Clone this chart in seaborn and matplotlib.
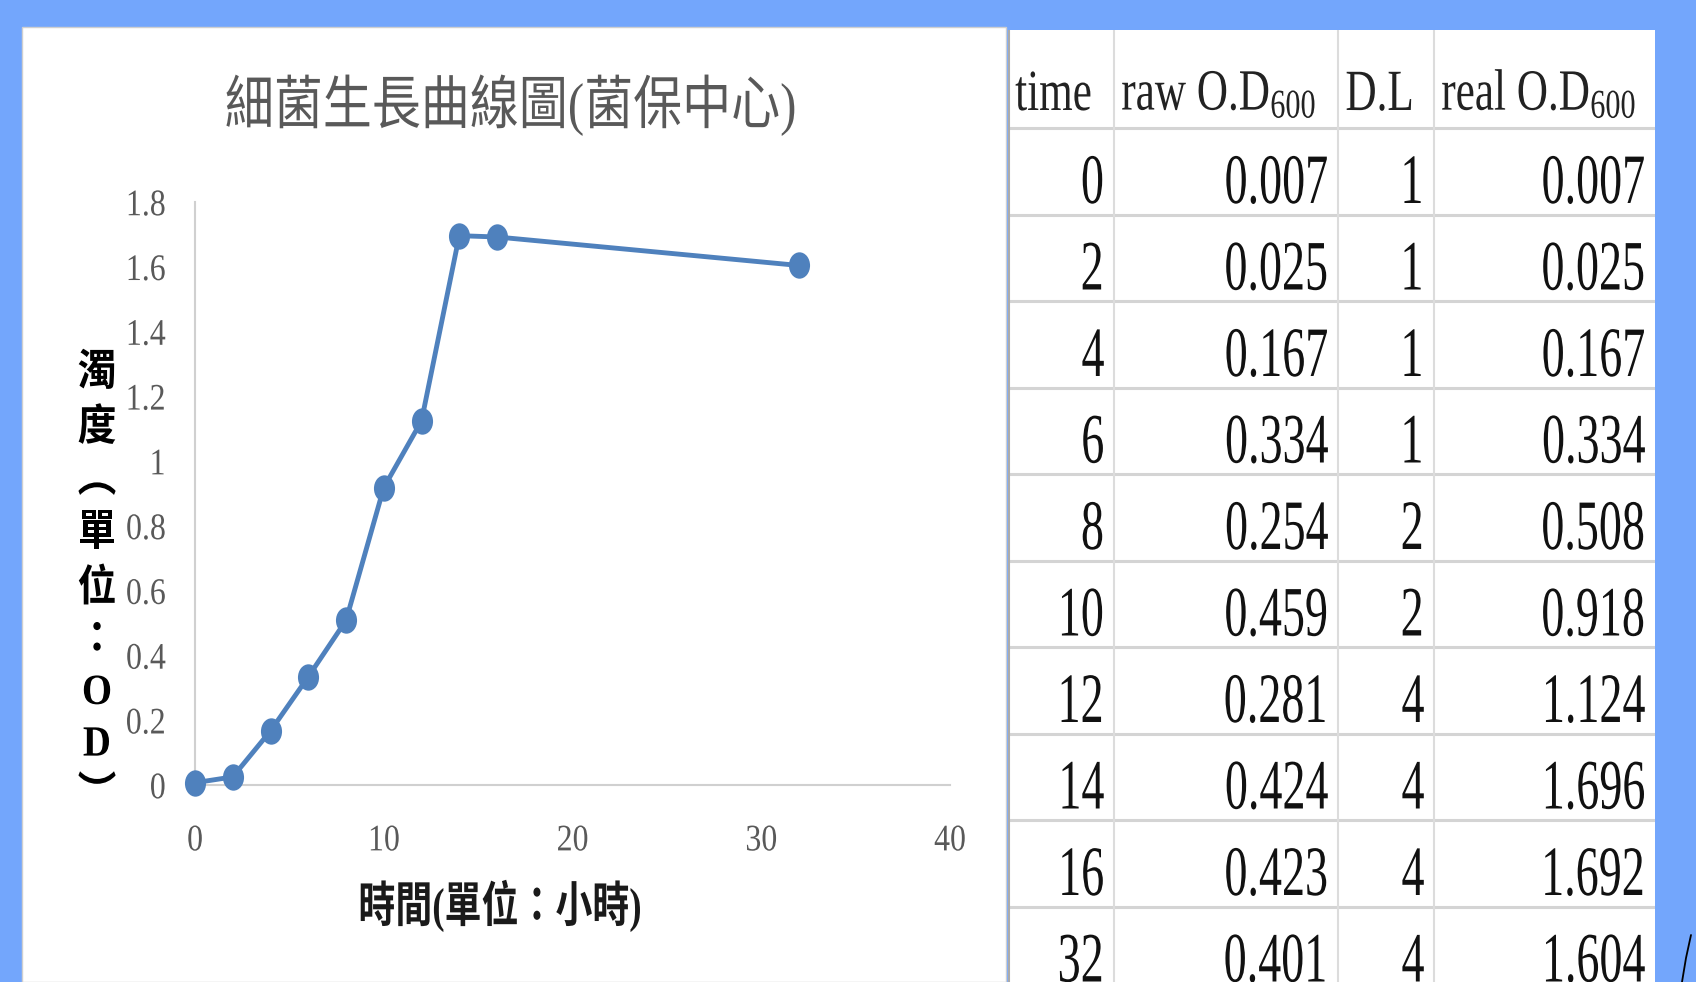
import matplotlib
matplotlib.use("Agg")
import matplotlib.pyplot as plt
import numpy as np
import pandas as pd
import seaborn as sns
from matplotlib.patheffects import AbstractPathEffect
from matplotlib.transforms import Affine2D
from matplotlib.markers import MarkerStyle
from matplotlib.patches import Rectangle
from matplotlib.lines import Line2D

# growth-curve measurements (hours, raw OD600, dilution, corrected OD600)
time_h = [0, 2, 4, 6, 8, 10, 12, 14, 16, 32]
raw_od = [0.007, 0.025, 0.167, 0.334, 0.254, 0.459, 0.281, 0.424, 0.423, 0.401]
dilution = [1, 1, 1, 1, 2, 2, 4, 4, 4, 4]
real_od = [0.007, 0.025, 0.167, 0.334, 0.508, 0.918, 1.124, 1.696, 1.692, 1.604]

x_ticks = [0, 10, 20, 30, 40]
y_ticks = [0, 0.2, 0.4, 0.6, 0.8, 1.0, 1.2, 1.4, 1.6, 1.8]
y_tick_labels = ["0", "0.2", "0.4", "0.6", "0.8", "1", "1.2", "1.4", "1.6", "1.8"]
table_headers = ["time", r"raw O.D$_{600}$", "D.L", r"real O.D$_{600}$"]

title_text = "細菌生長曲線圖(菌保中心)"
xlabel_text = "時間(單位：小時)"
ylabel_chars = ["濁", "度", "︵", "單", "位", "：", "O", "D", "︶"]


class Narrow(AbstractPathEffect):
    """Squeeze glyph outlines horizontally about the left, centre or right edge."""

    def __init__(self, factor, anchor="center"):
        super().__init__()
        self.factor = factor
        self.anchor = anchor

    def draw_path(self, renderer, gc, tpath, affine, rgbFace=None):
        ext = tpath.get_extents(affine)
        if self.anchor == "left":
            x0 = ext.x0
        elif self.anchor == "right":
            x0 = ext.x1
        else:
            x0 = 0.5 * (ext.x0 + ext.x1)
        squeeze = affine + Affine2D().translate(-x0, 0).scale(self.factor, 1.0).translate(x0, 0)
        renderer.draw_path(gc, tpath, squeeze, rgbFace)


sns.set_theme(style="white")
FAMILY = ["Liberation Serif", "Noto Sans CJK TC", "DejaVu Sans"]
plt.rcParams["font.family"] = FAMILY
plt.rcParams["mathtext.fontset"] = "custom"
plt.rcParams["mathtext.rm"] = "Liberation Serif"
plt.rcParams["mathtext.it"] = "Liberation Serif:italic"
plt.rcParams["mathtext.bf"] = "Liberation Serif:bold"

W, H = 1696, 982
BLUE_BG = "#73A6FC"
LINE_BLUE = "#4F81BD"
GREY_TXT = "#595959"

fig = plt.figure(figsize=(W / 100, H / 100), dpi=100, facecolor=BLUE_BG)


def fx(px):
    return px / W


def fy(py):
    return 1 - py / H


# white panels: chart on the left, data sheet on the right
fig.add_artist(Rectangle((fx(22), 0), fx(1006) - fx(22), fy(27), transform=fig.transFigure,
                         facecolor="white", edgecolor="#CFCFCF", linewidth=1.0, zorder=0))
fig.add_artist(Rectangle((fx(1008), 0), fx(1655) - fx(1008), fy(30), transform=fig.transFigure,
                         facecolor="white", edgecolor="none", zorder=0))

# ---- growth curve ----
ax = fig.add_axes([fx(195), fy(785), fx(950) - fx(195), fy(202) - fy(785)])
ax.set_facecolor("none")
df = pd.DataFrame({"time": time_h, "od": real_od})
oval = MarkerStyle("o", transform=Affine2D().scale(0.8, 1.0))
sns.lineplot(data=df, x="time", y="od", ax=ax, color=LINE_BLUE, linewidth=3.5,
             marker=oval, markersize=19, markeredgewidth=0, clip_on=False, zorder=3)

ax.set_xlim(0, 40)
ax.set_ylim(0, 1.8)
ax.set_xticks(x_ticks, labels=[str(v) for v in x_ticks])
ax.set_yticks(y_ticks, labels=y_tick_labels)
ax.tick_params(length=0, labelsize=27, labelcolor=GREY_TXT)
ax.tick_params(axis="y", pad=21)
ax.tick_params(axis="x", pad=28)
ax.grid(False)
for side in ("top", "right"):
    ax.spines[side].set_visible(False)
for side in ("left", "bottom"):
    ax.spines[side].set_color("#D0D0D0")
    ax.spines[side].set_linewidth(1.5)
for lab in ax.get_xticklabels():
    lab.set_fontfamily(FAMILY)
    lab.set_path_effects([Narrow(0.85, "center")])
for lab in ax.get_yticklabels():
    lab.set_fontfamily(FAMILY)
    lab.set_path_effects([Narrow(0.85, "right")])

ax.set_xlabel(xlabel_text, fontsize=35, fontweight="bold", color="#1A1A1A",
              va="center", path_effects=[Narrow(0.76)])
ax.xaxis.set_label_coords((500 - 195) / 755, (785 - 906) / 583)

ax.set_ylabel("\n".join(ylabel_chars), rotation=0, fontsize=31, fontweight="bold",
              color="black", ha="center", va="center", linespacing=1.47,
              path_effects=[Narrow(0.9)])
ax.yaxis.set_label_coords((97 - 195) / 755, (785 - 585) / 583)

fig.text(fx(511), fy(105), title_text, ha="center", va="center", fontsize=42,
         fontweight="light", color=GREY_TXT, path_effects=[Narrow(0.84)])

# ---- data sheet ----
tab = fig.add_axes([fx(1008), 0, fx(1655) - fx(1008), fy(30)])
tab.axis("off")
TAB_W, TAB_H = 647, 952
tab.set_xlim(0, TAB_W)
tab.set_ylim(TAB_H, 0)

col_edges = [0, 106, 330, 426, 647]
header_h = 98
row_h = 86.5

tab.hlines([header_h + row_h * k for k in range(len(time_h))], 0, TAB_W,
           colors="#D4D4D4", linewidth=2.2, zorder=1)
tab.vlines(col_edges[1:-1], 0, TAB_H, colors="#DCDCDC", linewidth=1.5, zorder=1)
tab.vlines([0.5], 0, TAB_H, colors="#ABABAB", linewidth=1.5, zorder=1)

for i, head in enumerate(table_headers):
    tab.text(col_edges[i] + 7, 80, head, ha="left", va="baseline", fontsize=42,
             color="#222222", path_effects=[Narrow(0.74, "left")])

columns = [
    [str(v) for v in time_h],
    [f"{v:.3f}" for v in raw_od],
    [str(v) for v in dilution],
    [f"{v:.3f}" for v in real_od],
]
for i, col in enumerate(columns):
    for k, cell in enumerate(col):
        base = header_h + row_h * (k + 1) - 11.5
        tab.text(col_edges[i + 1] - 9, base, cell, ha="right", va="baseline",
                 fontsize=51, color="#111111", path_effects=[Narrow(0.65, "right")])

# thin dark stroke in the lower-right corner of the slide
fig.add_artist(Line2D([fx(1691), fx(1686), fx(1682)], [fy(935), fy(958), fy(982)],
                      transform=fig.transFigure, color="black", linewidth=1.3))

fig.savefig("out.png", dpi=100, facecolor=BLUE_BG)
